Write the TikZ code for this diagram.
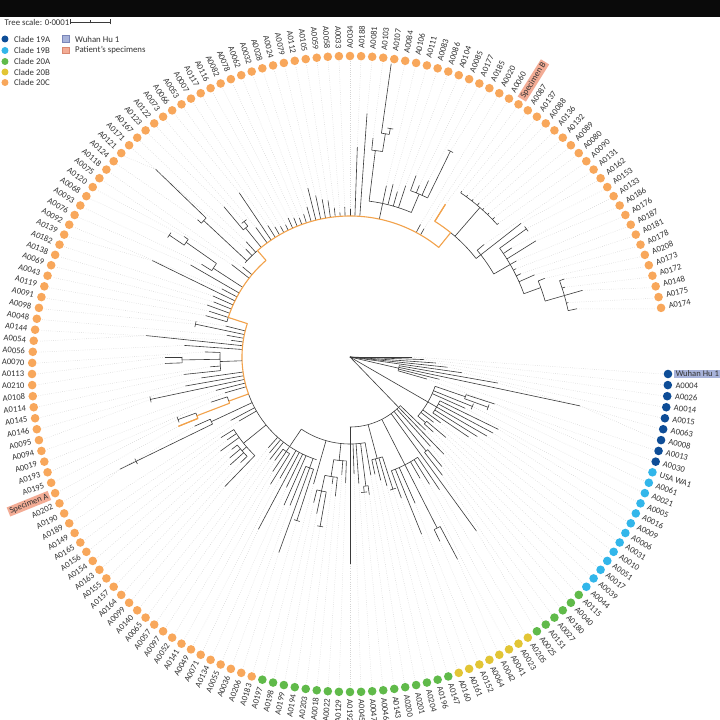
\documentclass[tikz,border=0pt]{standalone}
\usepackage{fontspec}
\setmainfont{Carlito}
\definecolor{c19a}{HTML}{0E4D97}
\definecolor{c19b}{HTML}{32B6EA}
\definecolor{c20a}{HTML}{60BA4A}
\definecolor{c20b}{HTML}{E2C535}
\definecolor{c20c}{HTML}{F8A75B}
\definecolor{wuhanbox}{HTML}{A8B3DA}
\definecolor{wuhanedge}{HTML}{7A86B8}
\definecolor{specbox}{HTML}{F3AC95}
\definecolor{specedge}{HTML}{D98870}
\definecolor{branch}{HTML}{3A3A3A}
\definecolor{orpath}{HTML}{F2A24B}
\definecolor{guidec}{HTML}{D4D4D4}
\definecolor{txt}{HTML}{333333}
\tikzset{
 br/.style={draw=branch, line width=0.6pt},
 obr/.style={draw=orpath, line width=1.1pt, line join=round},
 guide/.style={draw=guidec, line width=0.5pt, dash pattern=on 0.6pt off 1.6pt},
 lbl/.style={text=txt, font=\fontsize{8.6}{9}\selectfont, inner xsep=1.6pt, inner ysep=1.2pt},
 lgd/.style={text=txt, font=\fontsize{8.8}{9}\selectfont, inner sep=0pt, anchor=west},
 dot/.style={circle, inner sep=0pt, minimum size=8.6pt},
}
% leaf branch: tree is drawn in a scope shifted up by 17pt; the guide ends at the (unshifted) dot
\newcommand{\tlf}[4][br]{%
  \pgfmathsetmacro\tang{-2*#2}%
  \draw[guide] (\tang:#4) -- ([yshift=-17pt]\tang:313);
  \draw[#1] (\tang:#3) -- (\tang:#4);}
\newcommand{\ttick}[2]{%
  \pgfmathsetmacro\tta{-2*#1-170/#2}\pgfmathsetmacro\ttb{-2*#1+170/#2}%
  \draw[br] (\tta:#2) arc[start angle=\tta, end angle=\ttb, radius=#2];}
\newcommand{\tlft}[3]{\tlf{#1}{#2}{#3}\ttick{#1}{#3}}
\newcommand{\tnd}[5]{%
  \draw[br] (#1:#2) -- (#1:#3);
  \draw[br] (#4:#3) arc[start angle=#4, end angle=#5, radius=#3];}
\newcommand{\tarc}[3]{\draw[br] (#2:#1) arc[start angle=#2, end angle=#3, radius=#1];}
\begin{document}
\begin{tikzpicture}[x=1pt,y=1pt]
\useasboundingbox (-350,-346) rectangle (370,374);
\clip (-350,-346) rectangle (370,374);
\fill[white] (-350,-346) rectangle (370,374);
\begin{scope}[shift={(0,17)}]
% ---------- tree: clade 19A
\tlf{0}{0}{62}
\tlf{1}{0}{74}
\tlf{2}{0}{86}
\tlf{3}{0}{98}
\tlf{4}{0}{113}
\tnd{-13}{0}{50}{-10}{-16}
\tlf{5}{50}{150}
\tlf{6}{50}{235}
\tlf{7}{50}{92}
\tlf{8}{50}{80}
% clade 19B
\tnd{-30}{0}{90}{-19}{-41}
\tnd{-19}{90}{122}{-18}{-20}
\tlf{9}{122}{152}
\tlft{10}{122}{147}
\tlft{11}{90}{132}
\tlf{12}{90}{126}
\tnd{-30}{90}{100}{-26}{-34}
\tlf{13}{100}{165}
\tlf{14}{100}{162}
\tlf{15}{100}{158}
\tlf{16}{100}{150}
\tlf{17}{100}{143}
\tlf{18}{90}{112}
\tlf{19}{90}{106}
\tnd{-41}{90}{100}{-40}{-42}
\tlf{20}{100}{125}
\tlf{21}{100}{112}
% clade 20
\tnd{-46}{0}{70}{-44}{-90}
\tlf{22}{70}{105}
\tlf{23}{70}{135}
\tlf{24}{70}{120}
\tnd{-51}{70}{121}{-50}{-52}
\tlf{25}{121}{143}
\tlf{26}{121}{150}
\tlf{27}{70}{215}
\tnd{-63}{70}{121}{-56}{-70}
\tlf{28}{121}{160}
\tlf{29}{121}{150}
\tlf{30}{121}{140}
\tnd{-63}{121}{192}{-62}{-64}
\tlf{31}{192}{229}
\tlf{32}{192}{205}
\tlf{33}{121}{160}
\tlf{34}{121}{191}
\tlf{35}{121}{150}
\tnd{-75}{70}{105}{-72}{-78}
\tlft{36}{105}{139}
\tlf{37}{105}{134}
\tlf{38}{105}{127}
\tlf{39}{105}{120}
\tnd{-90}{70}{87}{-80}{-124}
\tlf{40}{87}{120}
\tnd{-83}{87}{130}{-82}{-84}
\tlf{41}{130}{139}
\tlft{42}{130}{136}
\tlf{43}{87}{127}
\tlf{44}{87}{117}
\tlf{45}{87}{207}
\tnd{-96}{87}{104}{-92}{-99}
\tlf{46}{104}{126}
\tlf{47}{104}{118}
\tnd{-99}{104}{121}{-96}{-102}
\tlf{48}{121}{140}
\tlf{49}{121}{128}
\tnd{-102}{121}{137}{-100}{-104}
\tlft{50}{137}{172}
\tlf{51}{137}{160}
\tlf{52}{137}{150}
\tlf{53}{87}{132}
% clade 20C
\draw[br] (-124:87) -- (-124:108);
\tarc{108}{-108}{-160}
\tnd{-110}{108}{118}{-108}{-112}
\tlft{54}{118}{172}
\tlf{55}{118}{208}
\tlf{56}{118}{160}
\tlf{57}{108}{162}
\tlf{58}{108}{145}
\tlf{59}{108}{195}
\tlf{60}{108}{140}
\tnd{-124}{108}{114}{-122}{-126}
\tlf{61}{114}{150}
\tlf{62}{114}{138}
\tlf{63}{114}{128}
\tlf{64}{108}{130}
\tlf{65}{108}{125}
\tlf{66}{108}{122}
\tnd{-141}{108}{137}{-134}{-148}
\tlf{67}{137}{180}
\tnd{-139}{137}{143}{-136}{-142}
\tlf{68}{143}{152}
\tlf{69}{143}{161}
\tlf{70}{143}{157}
\tlf{71}{143}{150}
\tlf{72}{137}{160}
\tlf{73}{137}{148}
\tlf{74}{137}{152}
\tlf{75}{108}{128}
\tlf{76}{108}{135}
\tnd{-155}{108}{153}{-154}{-156}
\tlf{77}{153}{256}
\ttick{77}{238}
\tlf{78}{153}{170}
\tarc{129}{-160}{-162}
\tarc{164}{-159}{-160}
\tlf[obr]{79}{164}{185}
\tlft{80}{164}{183}
\tlf{81}{129}{146}
\tlf{82}{108}{130}
\tlf{83}{108}{138}
\tlft{84}{108}{204}
\tlf{85}{108}{167}
\tlf{86}{108}{150}
\tnd{-178}{108}{130}{-174}{-182}
\tlf{87}{130}{167}
\tlf{88}{130}{140}
\tnd{-179}{130}{168}{-178}{-180}
\tlf{89}{168}{185}
\tlf{90}{168}{185}
\tlf{91}{130}{145}
\tlf{92}{108}{166}
\tlf{93}{108}{205}
\tlf{94}{108}{120}
\tlf{95}{108}{125}
\tlft{96}{108}{158}
\tlf{97}{108}{128}
\tarc{128}{-196}{-198}
\tlf{98}{128}{150}
\tlf{99}{128}{148}
\tlf{100}{128}{152}
\tlf{101}{128}{147}
\tlf{102}{128}{150}
\tlf{103}{128}{220}
\tlf{104}{128}{145}
\tlf{105}{128}{184}
\tnd{-213}{128}{163}{-212}{-215}
\tlf{106}{163}{175}
\tnd{-215}{163}{200}{-214}{-216}
\tlft{107}{200}{218}
\tlf{108}{200}{205}
\tlf{109}{128}{150}
\tlf{110}{128}{140}
\tarc{141}{-222}{-229}
\tnd{-223}{141}{200}{-222}{-224}
\tlf{111}{200}{205}
\tlf{112}{200}{270}
\tlf{113}{141}{150}
\tlf{114}{141}{155}
\tnd{-231}{141}{166}{-230}{-232}
\tlf{115}{166}{196}
\tlft{116}{166}{172}
\tlf{117}{141}{160}
\tlf{118}{141}{198}
\tlf{119}{141}{155}
\tlf{120}{141}{150}
\tlf{121}{141}{148}
\tlf{122}{141}{147}
\tlf{123}{141}{152}
\tlf{124}{141}{150}
\tlf{125}{141}{148}
\tlf{126}{141}{150}
\tlf{127}{141}{156}
\tlf{128}{141}{174}
\tlf{129}{141}{165}
\tlf{130}{141}{160}
\tlf{131}{141}{158}
\tlf{132}{141}{150}
\tlf{133}{141}{145}
\tlf{134}{141}{150}
\tlf{135}{141}{148}
\tlf{136}{141}{210}
\tlf{137}{141}{244}
\tnd{-282}{141}{157}{-277}{-293}
\tnd{-277}{157}{208}{-276}{-279}
\tlf{138}{208}{220}
\tnd{-279}{208}{226}{-278}{-280}
\tlf{139}{226}{296}
\tlft{140}{226}{232}
\tlf{141}{157}{175}
\tlf{142}{157}{178}
\tlf{143}{157}{172}
\tlf{144}{157}{180}
\tnd{-293}{157}{177}{-290}{-296}
\tlf{145}{177}{193}
\tlf{146}{177}{185}
\tlf{147}{177}{193}
\tlft{148}{177}{229}
\tlf{149}{141}{150}
\tlf{150}{141}{148}
\tarc{160}{-309}{-322}
\tlf[obr]{151}{160}{180}
\tnd{-311}{160}{198}{-304}{-318}
\tlf{152}{198}{200}
\tlf{153}{198}{200}
\tlf{154}{198}{200}
\tlf{155}{198}{201}
\tlf{156}{198}{200}
\tlf{157}{198}{200}
\tlf{158}{198}{201}
\tlf{159}{198}{200}
\tnd{-322}{160}{166}{-320}{-330}
\tlf{160}{166}{175}
\tlf{161}{166}{217}
\tnd{-330}{166}{185}{-324}{-340}
\tlft{162}{185}{218}
\tlf{163}{185}{195}
\tlf{164}{185}{219}
\tlf{165}{185}{192}
\tlf{166}{185}{188}
\tlf{167}{185}{190}
\tlf{168}{185}{202}
\tnd{-340}{185}{203}{-338}{-344}
\tlf{169}{203}{210}
\tnd{-344}{203}{223}{-340}{-348}
\tlf{170}{223}{228}
\tlf{171}{223}{226}
\tlf{172}{223}{242}
\tlf{173}{223}{225}
\tlf{174}{223}{232}
% ---------- path between the two patient specimens
\draw[obr] (-158:185) -- (-158:164) arc[start angle=-158, end angle=-159, radius=164]
  -- (-159:129) arc[start angle=-159, end angle=-160, radius=129]
  -- (-160:108) arc[start angle=-160, end angle=-198, radius=108]
  -- (-198:128) arc[start angle=-198, end angle=-229, radius=128]
  -- (-229:141) arc[start angle=-229, end angle=-309, radius=141]
  -- (-309:160) arc[start angle=-309, end angle=-302, radius=160]
  -- (-302:180);
\end{scope}
% ---------- leaves: dots and labels
\foreach \nm [count=\k from 0] in {Wuhan Hu 1, A0004, A0026, A0014, A0015, A0063, A0008, A0013, A0030,
 USA WA1, A0061, A0021, A0005, A0016, A0009, A0006, A0031, A0010, A0051, A0017, A0039, A0044,
 A0115, A0040, A0180, A0027, A0151, A0025,
 A0205, A0023, A0041, A0042, A0064, A0152, A0161, A0160,
 A0147, A0196, A0204, A0201, A0200, A0143, A0046, A0047, A0045, A0192, A0129, A0022, A0018, A0203, A0194, A0199, A0198, A0197,
 A0183, A0206, A0036, A0055, A0134, A0071, A0049, A0141, A0052, A0097, A0057, A0065, A0140, A0099, A0164, A0157, A0155, A0163, A0154, A0156,
 A0165, A0149, A0189, A0190, A0202, Specimen A, A0195, A0193, A0019, A0094, A0095, A0146, A0145, A0114, A0108, A0210, A0113, A0070, A0056, A0054,
 A0144, A0048, A0098, A0091, A0119, A0043, A0069, A0138, A0182, A0139, A0092, A0076, A0093, A0068, A0120, A0075, A0118, A0124, A0121, A0171,
 A0167, A0123, A0122, A0073, A0066, A0053, A0007, A0117, A0116, A0082, A0078, A0062, A0032, A0028, A0024, A0079, A0112, A0105, A0059, A0058,
 A0033, A0034, A0188, A0081, A0103, A0107, A0084, A0106, A0111, A0083, A0086, A0104, A0085, A0177, A0185, A0020, A0060, Specimen B, A0087, A0137,
 A0088, A0136, A0132, A0089, A0080, A0090, A0131, A0162, A0153, A0133, A0186, A0176, A0187, A0181, A0178, A0208, A0173, A0172, A0148, A0175, A0174}{
  \pgfmathsetmacro\ang{-2*\k}
  \ifnum\k<9 \def\dc{c19a}\else\ifnum\k<22 \def\dc{c19b}\else\ifnum\k<28 \def\dc{c20a}\else\ifnum\k<36 \def\dc{c20b}\else\ifnum\k<54 \def\dc{c20a}\else\def\dc{c20c}\fi\fi\fi\fi\fi
  \ifnum\k=0 \def\bx{wuhanbox}\else\ifnum\k=79 \def\bx{specbox}\else\ifnum\k=151 \def\bx{specbox}\else\def\bx{none}\fi\fi\fi
  \node[dot, fill=\dc] (L\k) at (\ang:318) {};
  \ifnum\k>45 \ifnum\k<135 \def\side{1}\else\def\side{0}\fi\else\def\side{0}\fi
  \ifnum\side=1
    \node[lbl, fill=\bx, rotate=\ang+180, anchor=east] (T\k) at (\ang:324) {\nm};
  \else
    \node[lbl, fill=\bx, rotate=\ang, anchor=west] (T\k) at (\ang:324) {\nm};
  \fi
}
% ---------- header bar and legend
\fill[black!96] (-350,374) rectangle (370,356.7);
\node[lgd] (scaletxt) at (-345.5,352) {Tree scale: 0·0001};
\coordinate (sbl) at (-280,352);
\coordinate (sbr) at (-240,352);
\draw[branch, line width=0.6pt] (sbl) -- (sbr);
\draw[branch, line width=0.6pt] ([yshift=-2.5pt]sbl) -- ([yshift=2.5pt]sbl);
\draw[branch, line width=0.6pt] ([yshift=-2.5pt]sbr) -- ([yshift=2.5pt]sbr);
\draw[branch, line width=0.6pt] (-260,350.5) -- (-260,353.5);
\node[dot, fill=c19a, minimum size=7pt] (k1) at (-345,335) {};
\node[dot, fill=c19b, minimum size=7pt] (k2) at (-345,323.5) {};
\node[dot, fill=c20a, minimum size=7pt] (k3) at (-345,312.5) {};
\node[dot, fill=c20b, minimum size=7pt] (k4) at (-345,302) {};
\node[dot, fill=c20c, minimum size=7pt] (k5) at (-345,291.5) {};
\node[lgd] (kt1) at (-336,335) {Clade 19A};
\node[lgd] (kt2) at (-336,323.5) {Clade 19B};
\node[lgd] (kt3) at (-336,312.5) {Clade 20A};
\node[lgd] (kt4) at (-336,302) {Clade 20B};
\node[lgd] (kt5) at (-336,291.5) {Clade 20C};
\node[draw=wuhanedge, fill=wuhanbox, line width=0.6pt, minimum width=7.5pt, minimum height=6.5pt, inner sep=0pt] (kb1) at (-284.3,335) {};
\node[draw=specedge, fill=specbox, line width=0.6pt, minimum width=7.5pt, minimum height=6.5pt, inner sep=0pt] (kb2) at (-284.3,323.5) {};
\node[lgd] (kbt1) at (-275,335) {Wuhan Hu 1};
\node[lgd] (kbt2) at (-275,323.5) {Patient's specimens};
\end{tikzpicture}
\end{document}
